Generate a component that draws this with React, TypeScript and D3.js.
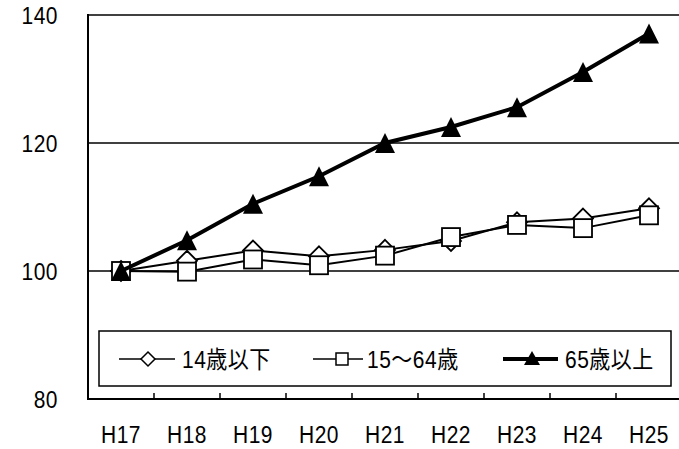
import React from "react";
import * as d3 from "d3";

const categories = ["H17", "H18", "H19", "H20", "H21", "H22", "H23", "H24", "H25"];
const age0to14 = [100, 101.6, 103.2, 102.3, 103.3, 104.7, 107.6, 108.2, 109.8];
const age15to64 = [100, 99.9, 101.8, 100.9, 102.4, 105.3, 107.2, 106.7, 108.7];
const age65plus = [100, 104.8, 110.5, 114.8, 120.0, 122.5, 125.6, 131.1, 137.1];
const yTicks = [80, 100, 120, 140];
const legendLabels = ["14歳以下", "15〜64歳", "65歳以上"];

const W = 679;
const H = 449;
const plot = { left: 88, top: 15, right: 682, bottom: 399 };
const FONT = "'Liberation Sans', Arial, 'Noto Sans CJK JP', sans-serif";
const FS = 21;

// Text slightly stretched vertically for a tall, narrow gothic look
function Label({
  x,
  y,
  anchor = "start",
  children,
}: {
  x: number;
  y: number;
  anchor?: "start" | "middle" | "end";
  children: React.ReactNode;
}) {
  return (
    <text
      transform={`translate(${x},${y}) scale(1,1.12)`}
      textAnchor={anchor}
      fontSize={FS}
      letterSpacing={0.5}
    >
      {children}
    </text>
  );
}

export default function App() {
  const x = d3.scaleBand<string>().domain(categories).range([plot.left, plot.right]);
  const y = d3.scaleLinear().domain([80, 140]).range([plot.bottom, plot.top]);
  const cx = (c: string) => (x(c) as number) + x.bandwidth() / 2;

  const line = d3
    .line<number>()
    .x((_, i) => cx(categories[i]))
    .y((v) => y(v));

  const diamond = (px: number, py: number, r: number) =>
    `M${px},${py - r}L${px + r},${py}L${px},${py + r}L${px - r},${py}Z`;
  const triangle = (px: number, py: number, w: number, h: number) =>
    `M${px},${py - h / 2}L${px + w / 2},${py + h / 2}L${px - w / 2},${py + h / 2}Z`;

  const legendY = 359;
  const textDy = 8.5;

  return (
    <svg
      width={W}
      height={H}
      style={{ position: "absolute", left: 0, top: 0, background: "#fff" }}
      fontFamily={FONT}
    >
      <rect x={0} y={0} width={W} height={H} fill="#fff" />

      {/* horizontal gridlines (top one doubles as plot border) */}
      {yTicks.slice(1).map((t) => (
        <line key={t} x1={plot.left} x2={plot.right} y1={y(t)} y2={y(t)} stroke="#000" strokeWidth={1.6} />
      ))}

      {/* y tick labels */}
      {yTicks.map((t) => (
        <Label key={t} x={58} y={y(t) + textDy} anchor="end">
          {t}
        </Label>
      ))}

      {/* series */}
      <path d={line(age0to14) || ""} fill="none" stroke="#000" strokeWidth={2} />
      {age0to14.map((v, i) => (
        <path key={"d" + i} d={diamond(cx(categories[i]), y(v), 10)} fill="#fff" stroke="#000" strokeWidth={1.8} />
      ))}

      <path d={line(age15to64) || ""} fill="none" stroke="#000" strokeWidth={2} />
      {age15to64.map((v, i) => (
        <rect
          key={"s" + i}
          x={cx(categories[i]) - 9}
          y={y(v) - 9}
          width={18}
          height={18}
          fill="#fff"
          stroke="#000"
          strokeWidth={1.8}
        />
      ))}

      <path d={line(age65plus) || ""} fill="none" stroke="#000" strokeWidth={4} />
      {age65plus.map((v, i) => (
        <path key={"t" + i} d={triangle(cx(categories[i]), y(v), 20, 20)} fill="#000" />
      ))}

      {/* legend */}
      <rect x={99} y={331} width={572} height={55} fill="#fff" stroke="#000" strokeWidth={1.5} />
      <line x1={119} x2={175} y1={legendY} y2={legendY} stroke="#000" strokeWidth={1.5} />
      <path d={diamond(148, legendY, 7)} fill="#fff" stroke="#000" strokeWidth={1.5} />
      <Label x={182} y={legendY + textDy}>{legendLabels[0]}</Label>

      <line x1={313} x2={363} y1={legendY} y2={legendY} stroke="#000" strokeWidth={1.5} />
      <rect x={336} y={legendY - 6} width={12} height={12} fill="#fff" stroke="#000" strokeWidth={1.5} />
      <Label x={367} y={legendY + textDy}>{legendLabels[1]}</Label>

      <line x1={503} x2={558} y1={legendY} y2={legendY} stroke="#000" strokeWidth={4} />
      <path d={triangle(532, legendY - 1, 16, 14)} fill="#000" />
      <Label x={565} y={legendY + textDy}>{legendLabels[2]}</Label>

      {/* axes */}
      <line x1={plot.left} x2={plot.left} y1={plot.top - 1} y2={plot.bottom + 1} stroke="#000" strokeWidth={2} />
      <line x1={plot.left} x2={plot.right} y1={plot.bottom} y2={plot.bottom} stroke="#000" strokeWidth={2} />
      {categories.slice(1).map((c) => (
        <line
          key={c}
          x1={x(c) as number}
          x2={x(c) as number}
          y1={plot.bottom}
          y2={plot.bottom - 6}
          stroke="#000"
          strokeWidth={1.5}
        />
      ))}
      {categories.map((c) => (
        <Label key={c} x={cx(c)} y={443} anchor="middle">
          {c}
        </Label>
      ))}
    </svg>
  );
}
